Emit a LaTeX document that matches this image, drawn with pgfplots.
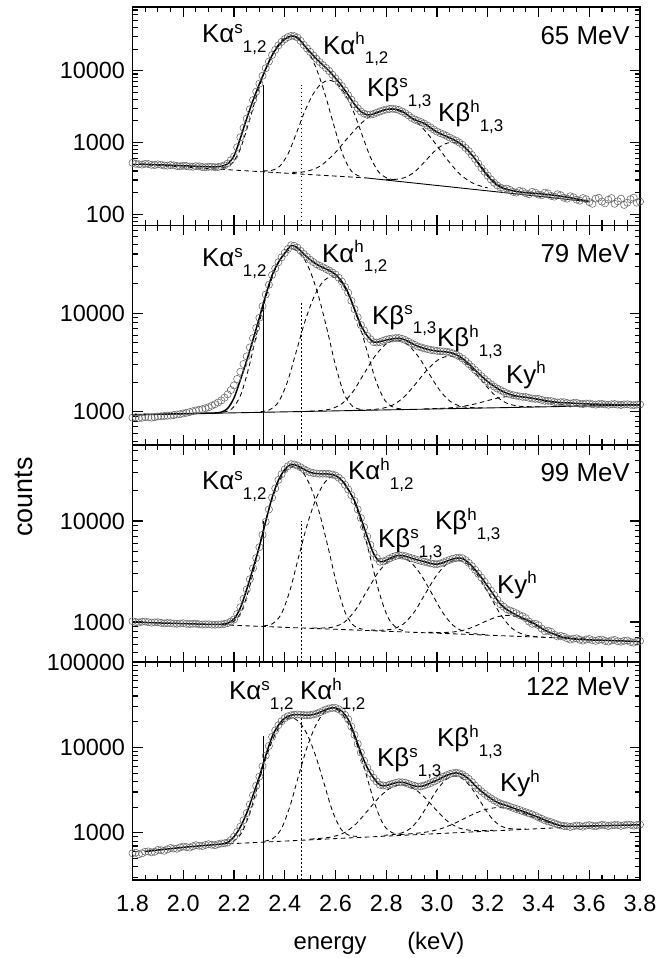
\documentclass[border=0pt]{standalone}
\usepackage{pgfplots}
\usepackage{pgfplotstable}
\pgfplotsset{compat=1.18}
\usepackage{fontspec}
\setmainfont{Liberation Sans}

% line labels: K + greek letter + superscript + subscript set one after the other
\newcommand\scr[1]{{\fontsize{17}{17}\selectfont #1}}
\newcommand\Kl[3]{K#1\raisebox{0.37em}{\scr{#2}}\raisebox{-0.36em}{\scr{#3}}}
\newcommand\Ky{Ky\raisebox{0.37em}{\scr{h}}}

\pgfplotsset{
  /pgfplots/specpanel/.style={
    scale only axis, width=507.5bp, xmin=1.8, xmax=3.8,
    xtick={1.8,2,2.2,2.4,2.6,2.8,3,3.2,3.4,3.6,3.8}, minor x tick num=3,
    xticklabels={},
    tick align=inside, major tick length=10bp, minor tick length=5.5bp,
    every tick/.style={black, line width=1.1bp},
    axis line style={line width=1.6bp},
    tick label style={font=\fontsize{23.5}{26}\selectfont},
    yticklabel style={xshift=-4bp},
    xticklabel style={yshift=-12bp},
  },
  /pgfplots/pts/.style={only marks, mark=o, mark size=3.6bp, color=black!60, mark options={line width=0.55bp}},
  /pgfplots/myfit/.style={black, line width=1.5bp, smooth, no marks},
  /pgfplots/gauss/.style={black, line width=0.85bp, dash pattern=on 4.5bp off 3.5bp, smooth, no marks},
  /pgfplots/bldash/.style={black, line width=0.85bp, dash pattern=on 4.5bp off 3.5bp, no marks},
  /pgfplots/blsolid/.style={black, line width=0.9bp, no marks},
  /pgfplots/vsolid/.style={black, line width=1.1bp, no marks},
  /pgfplots/vdot/.style={black, line width=1.2bp, dash pattern=on 1.6bp off 2.4bp, no marks},
}

% measured spectra: energy (keV), counts, fitted total
\pgfplotstableread{
E d f
1.800 520 505
1.825 498 500
1.850 505 497
1.875 488 493
1.900 495 490
1.925 478 486
1.950 486 482
1.975 470 478
2.000 474 474
2.025 462 470
2.050 468 466
2.075 455 462
2.100 458 459
2.125 452 458
2.150 465 466
2.175 510 505
2.200 640 650
2.225 1180 1150
2.250 2150 2150
2.275 3900 3850
2.300 6600 6500
2.325 10800 10600
2.350 16500 16300
2.375 22500 22200
2.400 27500 27300
2.425 30500 30300
2.450 29000 29000
2.475 22800 22800
2.500 18300 18200
2.525 14600 14600
2.550 12000 12000
2.575 9900 9900
2.600 7800 7830
2.625 6100 6120
2.650 4550 4590
2.675 3400 3400
2.700 2700 2700
2.725 2430 2420
2.750 2500 2500
2.775 2700 2700
2.800 2880 2880
2.825 2950 2930
2.850 2840 2830
2.875 2560 2550
2.900 2200 2180
2.925 2000 1990
2.950 1830 1840
2.975 1620 1600
3.000 1420 1400
3.025 1300 1270
3.050 1170 1160
3.075 1060 1050
3.100 930 920
3.125 760 750
3.150 590 590
3.175 440 445
3.200 345 340
3.225 275 275
3.250 236 238
3.275 228 222
3.300 205 212
3.325 212 205
3.350 196 200
3.375 205 197
3.400 188 194
3.425 200 190
3.450 180 186
3.475 190 181
3.500 170 176
3.525 178 170
3.550 160 164
3.575 168 157
3.600 148 151
3.625 165 151
3.650 150 151
3.675 160 151
3.700 140 151
3.725 165 151
3.750 145 151
3.775 170 151
3.800 150 151
}\specA
\pgfplotstableread{
E d
1.8125 505
1.8375 492
1.8625 500
1.8875 485
1.9125 490
1.9375 476
1.9625 480
1.9875 466
2.0125 470
2.0375 458
2.0625 465
2.0875 452
2.1125 460
2.1375 455
2.1625 480
2.1875 565
2.2125 860
2.2375 1600
2.2625 2900
2.2875 5100
2.3125 8500
2.3375 13400
2.3625 19500
2.3875 25200
2.4125 29300
2.4375 30300
2.4625 26000
2.4875 20400
2.5125 16300
2.5375 13200
2.5625 10900
2.5875 8800
2.6125 6900
2.6375 5300
2.6625 3950
2.6875 3000
2.7125 2530
2.7375 2450
2.7625 2600
2.7875 2800
2.8125 2930
2.8375 2900
2.8625 2700
2.8875 2380
2.9125 2090
2.9375 1920
2.9625 1720
2.9875 1510
3.0125 1350
3.0375 1240
3.0625 1110
3.0875 1000
3.1125 840
3.1375 670
3.1625 510
3.1875 390
3.2125 305
3.2375 252
3.2625 225
3.2875 218
3.3125 200
3.3375 208
3.3625 190
3.3875 200
3.4125 184
3.4375 195
3.4625 176
3.4875 184
3.5125 165
3.5375 172
3.5625 155
3.5875 162
3.6125 140
3.6375 170
3.6625 142
3.6875 168
3.7125 152
3.7375 135
3.7625 162
3.7875 145
}\specAm

\pgfplotstableread{
E d f
1.800 870 930
1.825 860 933
1.850 885 936
1.875 870 939
1.900 895 942
1.925 905 945
1.950 915 948
1.975 935 951
2.000 960 954
2.025 990 957
2.050 1030 960
2.075 1060 963
2.100 1110 966
2.125 1190 970
2.150 1300 990
2.175 1500 1080
2.200 1850 1380
2.225 2550 2100
2.250 3650 3300
2.275 5600 5400
2.300 9000 9000
2.325 15500 15300
2.350 24500 24300
2.375 33000 33000
2.400 41000 40800
2.425 49000 48800
2.450 46500 46300
2.475 40000 40000
2.500 35000 35000
2.525 31500 31500
2.550 29300 29200
2.575 27200 27200
2.600 24800 24800
2.625 21000 21000
2.650 16200 16100
2.675 11000 11000
2.700 7600 7600
2.725 5900 5900
2.750 5100 5100
2.775 5100 5150
2.800 5400 5350
2.825 5550 5500
2.850 5600 5580
2.875 5350 5350
2.900 4950 4950
2.925 4600 4620
2.950 4400 4400
2.975 4250 4230
3.000 4150 4130
3.025 4100 4080
3.050 4020 4000
3.075 3800 3800
3.100 3480 3480
3.125 3050 3070
3.150 2650 2650
3.175 2300 2300
3.200 2020 2020
3.225 1800 1810
3.250 1660 1650
3.275 1540 1540
3.300 1470 1470
3.325 1430 1425
3.350 1410 1400
3.375 1360 1370
3.400 1350 1335
3.425 1290 1300
3.450 1280 1268
3.475 1240 1248
3.500 1250 1235
3.525 1210 1225
3.550 1230 1215
3.575 1195 1205
3.600 1210 1198
3.625 1180 1192
3.650 1200 1188
3.675 1175 1185
3.700 1195 1182
3.725 1170 1180
3.750 1190 1178
3.775 1165 1176
3.800 1185 1175
}\specB
\pgfplotstableread{
E d
1.8125 880
1.8375 868
1.8625 875
1.8875 880
1.9125 898
1.9375 910
1.9625 925
1.9875 945
2.0125 975
2.0375 1010
2.0625 1045
2.0875 1085
2.1125 1150
2.1375 1240
2.1625 1390
2.1875 1660
2.2125 2150
2.2375 3050
2.2625 4500
2.2875 7100
2.3125 11800
2.3375 19500
2.3625 28500
2.3875 37000
2.4125 45000
2.4375 48500
2.4625 43000
2.4875 37400
2.5125 33200
2.5375 30300
2.5625 28200
2.5875 26000
2.6125 23000
2.6375 18500
2.6625 13400
2.6875 9100
2.7125 6700
2.7375 5450
2.7625 5050
2.7875 5250
2.8125 5480
2.8375 5600
2.8625 5500
2.8875 5150
2.9125 4780
2.9375 4500
2.9625 4320
2.9875 4200
3.0125 4120
3.0375 4060
3.0625 3920
3.0875 3650
3.1125 3270
3.1375 2850
3.1625 2470
3.1875 2150
3.2125 1900
3.2375 1720
3.2625 1600
3.2875 1500
3.3125 1455
3.3375 1415
3.3625 1385
3.3875 1350
3.4125 1320
3.4375 1290
3.4625 1255
3.4875 1250
3.5125 1225
3.5375 1225
3.5625 1205
3.5875 1210
3.6125 1190
3.6375 1195
3.6625 1185
3.6875 1190
3.7125 1180
3.7375 1185
3.7625 1175
3.7875 1180
}\specBm

\pgfplotstableread{
E d f
1.800 1020 1000
1.825 990 995
1.850 1010 990
1.875 985 985
1.900 995 980
1.925 970 976
1.950 975 972
1.975 960 968
2.000 972 964
2.025 955 960
2.050 962 956
2.075 945 952
2.100 950 948
2.125 940 946
2.150 948 950
2.175 975 975
2.200 1060 1070
2.225 1400 1380
2.250 2100 2100
2.275 3400 3400
2.300 5500 5600
2.325 9800 9900
2.350 17000 17000
2.375 25500 25300
2.400 32500 32300
2.425 36500 36300
2.450 35300 35200
2.475 32500 32500
2.500 30300 30300
2.525 29500 29400
2.550 29400 29300
2.575 29200 29100
2.600 28200 28200
2.625 25200 25200
2.650 20500 20500
2.675 15800 15800
2.700 10700 10700
2.725 7000 7000
2.750 4800 4750
2.775 3950 3950
2.800 4080 4080
2.825 4400 4400
2.850 4580 4570
2.875 4480 4480
2.900 4280 4280
2.925 4100 4100
2.950 3950 3960
2.975 3800 3800
3.000 3730 3730
3.025 3900 3880
3.050 4120 4110
3.075 4300 4280
3.100 4280 4260
3.125 3850 3850
3.150 3290 3300
3.175 2750 2750
3.200 2250 2250
3.225 1850 1830
3.250 1500 1500
3.275 1340 1330
3.300 1260 1220
3.325 1170 1130
3.350 1090 1060
3.375 960 990
3.400 930 910
3.425 810 830
3.450 800 780
3.475 720 735
3.500 715 700
3.525 670 685
3.550 690 676
3.575 655 670
3.600 680 665
3.625 650 662
3.650 670 660
3.675 640 657
3.700 665 653
3.725 638 650
3.750 655 647
3.775 625 643
3.800 650 640
}\specC
\pgfplotstableread{
E d
1.8125 1000
1.8375 1005
1.8625 995
1.8875 992
1.9125 980
1.9375 978
1.9625 965
1.9875 968
2.0125 960
2.0375 960
2.0625 950
2.0875 948
2.1125 942
2.1375 945
2.1625 958
2.1875 1010
2.2125 1200
2.2375 1700
2.2625 2650
2.2875 4300
2.3125 7300
2.3375 13000
2.3625 21000
2.3875 29000
2.4125 34800
2.4375 36200
2.4625 34000
2.4875 31300
2.5125 29800
2.5375 29400
2.5625 29400
2.5875 28800
2.6125 26800
2.6375 22800
2.6625 18000
2.6875 13000
2.7125 8700
2.7375 5800
2.7625 4300
2.7875 3980
2.8125 4250
2.8375 4500
2.8625 4550
2.8875 4380
2.9125 4190
2.9375 4020
2.9625 3880
2.9875 3760
3.0125 3800
3.0375 4010
3.0625 4230
3.0875 4320
3.1125 4100
3.1375 3580
3.1625 3010
3.1875 2500
3.2125 2040
3.2375 1660
3.2625 1420
3.2875 1300
3.3125 1220
3.3375 1140
3.3625 1010
3.3875 960
3.4125 860
3.4375 820
3.4625 750
3.4875 730
3.5125 690
3.5375 685
3.5625 668
3.5875 672
3.6125 660
3.6375 665
3.6625 650
3.6875 658
3.7125 645
3.7375 652
3.7625 635
3.7875 642
}\specCm

\pgfplotstableread{
E d f
1.800 575 590
1.825 560 597
1.850 600 605
1.875 590 615
1.900 630 628
1.925 615 640
1.950 665 652
1.975 650 663
2.000 690 675
2.025 670 686
2.050 715 697
2.075 700 707
2.100 735 717
2.125 715 727
2.150 750 738
2.175 770 770
2.200 900 900
2.225 1180 1170
2.250 1700 1700
2.275 2750 2750
2.300 4550 4550
2.325 8000 8000
2.350 13300 13300
2.375 18200 18200
2.400 22000 22000
2.425 23800 23800
2.450 24300 24300
2.475 23900 23900
2.500 23900 23900
2.525 24800 24800
2.550 26700 26700
2.575 28600 28600
2.600 29000 29000
2.625 26500 26500
2.650 21300 21300
2.675 14000 14000
2.700 8700 8700
2.725 5800 5800
2.750 4400 4400
2.775 3650 3620
2.800 3560 3570
2.825 3750 3770
2.850 3920 3910
2.875 3860 3850
2.900 3620 3610
2.925 3480 3480
2.950 3580 3560
2.975 3830 3850
3.000 4150 4120
3.025 4530 4520
3.050 4870 4850
3.075 5050 5030
3.100 4820 4810
3.125 4280 4280
3.150 3570 3570
3.175 3060 3060
3.200 2680 2680
3.225 2400 2380
3.250 2200 2190
3.275 2090 2080
3.300 1960 1950
3.325 1850 1840
3.350 1740 1730
3.375 1640 1620
3.400 1520 1515
3.425 1400 1410
3.450 1330 1320
3.475 1250 1240
3.500 1200 1190
3.525 1170 1188
3.550 1215 1190
3.575 1180 1195
3.600 1230 1200
3.625 1190 1205
3.650 1240 1210
3.675 1200 1215
3.700 1235 1220
3.725 1205 1225
3.750 1250 1230
3.775 1215 1235
3.800 1250 1240
}\specD
\pgfplotstableread{
E d
1.8125 585
1.8375 575
1.8625 605
1.8875 600
1.9125 625
1.9375 640
1.9625 655
1.9875 675
2.0125 680
2.0375 695
2.0625 705
2.0875 720
2.1125 725
2.1375 735
2.1625 755
2.1875 820
2.2125 1020
2.2375 1400
2.2625 2150
2.2875 3550
2.3125 6000
2.3375 10400
2.3625 15800
2.3875 20200
2.4125 23100
2.4375 24100
2.4625 24100
2.4875 23800
2.5125 24300
2.5375 25700
2.5625 27700
2.5875 29000
2.6125 28000
2.6375 24000
2.6625 17500
2.6875 11000
2.7125 7000
2.7375 5000
2.7625 3980
2.7875 3580
2.8125 3650
2.8375 3850
2.8625 3900
2.8875 3740
2.9125 3540
2.9375 3500
2.9625 3700
2.9875 3980
3.0125 4350
3.0375 4720
3.0625 4980
3.0875 4960
3.1125 4560
3.1375 3920
3.1625 3300
3.1875 2860
3.2125 2530
3.2375 2290
3.2625 2140
3.2875 2020
3.3125 1900
3.3375 1790
3.3625 1690
3.3875 1580
3.4125 1460
3.4375 1360
3.4625 1290
3.4875 1220
3.5125 1195
3.5375 1190
3.5625 1200
3.5875 1215
3.6125 1210
3.6375 1215
3.6625 1225
3.6875 1220
3.7125 1230
3.7375 1225
3.7625 1240
3.7875 1235
}\specDm

\begin{document}
\begin{tikzpicture}[x=1bp, y=1bp]
\useasboundingbox (0,0) rectangle (658,958);

% ---------------- 65 MeV ----------------
\begin{axis}[specpanel, ymode=log, at={(132.5bp,732.5bp)}, anchor=south west, height=218.5bp,
  ymin=69.8, ymax=77100, ytick={100,1000,10000}, yticklabels={100,1000,10000},
  minor ytick={80,90,200,300,400,500,600,700,800,900,2000,3000,4000,5000,6000,7000,8000,9000,20000,30000,40000,50000,60000,70000}]
\addplot[pts] table[x=E, y=d] {\specA};
\addplot[pts] table[x=E, y=d] {\specAm};
\addplot[gauss] coordinates {(2.153,441) (2.187,491) (2.221,751) (2.255,1728) (2.289,4464) (2.323,10139) (2.357,18586) (2.391,26860) (2.425,30378) (2.459,26846) (2.493,18560) (2.527,10099) (2.561,4411) (2.595,1662) (2.629,671) (2.663,398) (2.697,335)};
\addplot[gauss] coordinates {(2.315,402) (2.3475,408) (2.38,465) (2.4125,688) (2.445,1321) (2.4775,2641) (2.51,4608) (2.5425,6533) (2.575,7349) (2.6075,6521) (2.64,4582) (2.6725,2603) (2.705,1271) (2.7375,624) (2.77,389) (2.8025,320) (2.835,300)};
\addplot[gauss] coordinates {(2.43,383) (2.485,395) (2.54,470) (2.595,697) (2.65,1178) (2.705,1901) (2.76,2608) (2.815,2902) (2.87,2586) (2.925,1858) (2.98,1114) (3.035,611) (3.09,362) (3.145,267) (3.20,233)};
\addplot[gauss] coordinates {(2.7975,307) (2.835,306) (2.8725,324) (2.91,385) (2.9475,520) (2.985,724) (3.0225,924) (3.06,1004) (3.0975,909) (3.135,695) (3.1725,476) (3.21,326) (3.2475,251) (3.285,218) (3.3225,205)};
\addplot[bldash] coordinates {(1.8,500) (2.72,321)};
\addplot[blsolid] coordinates {(2.72,321) (3.59,151)};
\addplot[myfit, restrict x to domain=1.82:3.6] table[x=E, y=f] {\specA};
\addplot[vsolid] coordinates {(2.315,69.8) (2.315,6300)};
\addplot[vdot] coordinates {(2.467,69.8) (2.467,6300)};
\end{axis}

% ---------------- 79 MeV ----------------
\begin{axis}[specpanel, ymode=log, at={(132.5bp,513bp)}, anchor=south west, height=219.5bp,
  ymin=459, ymax=78000, ytick={1000,10000}, yticklabels={1000,10000},
  minor ytick={500,600,700,800,900,2000,3000,4000,5000,6000,7000,8000,9000,20000,30000,40000,50000,60000,70000}]
\addplot[pts] table[x=E, y=d] {\specB};
\addplot[pts] table[x=E, y=d] {\specBm};
\addplot[gauss] coordinates {(2.158,988) (2.192,1074) (2.226,1469) (2.26,2917) (2.294,6942) (2.328,15280) (2.362,27683) (2.396,39832) (2.43,45006) (2.464,39840) (2.498,27700) (2.532,15305) (2.566,6975) (2.60,2958) (2.634,1518) (2.668,1131) (2.702,1053)};
\addplot[gauss] coordinates {(2.305,999) (2.34,1045) (2.375,1249) (2.41,1991) (2.445,4051) (2.48,8318) (2.515,14662) (2.55,20876) (2.585,23524) (2.62,20884) (2.655,14679) (2.69,8343) (2.725,4085) (2.76,2033) (2.795,1299) (2.83,1104) (2.865,1066)};
\addplot[gauss] coordinates {(2.50,1015) (2.5425,1028) (2.585,1072) (2.6275,1218) (2.67,1616) (2.7125,2436) (2.755,3653) (2.7975,4845) (2.84,5355) (2.8825,4855) (2.925,3673) (2.9675,2466) (3.01,1657) (3.0525,1269) (3.095,1133) (3.1375,1100) (3.18,1097)};
\addplot[gauss] coordinates {(2.69,1038) (2.735,1048) (2.78,1077) (2.825,1167) (2.87,1410) (2.915,1908) (2.96,2646) (3.005,3370) (3.05,3680) (3.095,3380) (3.14,2668) (3.185,1940) (3.23,1454) (3.275,1221) (3.32,1141) (3.365,1124) (3.41,1124)};
\addplot[gauss] coordinates {(2.95,1069) (3.00,1078) (3.05,1094) (3.10,1131) (3.15,1199) (3.20,1298) (3.25,1395) (3.30,1440) (3.35,1407) (3.40,1322) (3.45,1235) (3.50,1179) (3.55,1154) (3.60,1150) (3.65,1153)};
\addplot[blsolid] coordinates {(1.8,930) (3.8,1170)};
\addplot[myfit] table[x=E, y=f] {\specB};
\addplot[vsolid] coordinates {(2.315,459) (2.315,13300)};
\addplot[vdot] coordinates {(2.467,459) (2.467,12900)};
\end{axis}

% ---------------- 99 MeV ----------------
\begin{axis}[specpanel, ymode=log, at={(132.5bp,296bp)}, anchor=south west, height=217bp,
  ymin=402, ymax=56500, ytick={1000,10000}, yticklabels={1000,10000},
  minor ytick={500,600,700,800,900,2000,3000,4000,5000,6000,7000,8000,9000,20000,30000,40000,50000}]
\addplot[pts] table[x=E, y=d] {\specC};
\addplot[pts] table[x=E, y=d] {\specCm};
\addplot[gauss] coordinates {(2.163,946) (2.197,1004) (2.231,1299) (2.265,2409) (2.299,5510) (2.333,11944) (2.367,21519) (2.401,30897) (2.435,34886) (2.469,30885) (2.503,21494) (2.537,11907) (2.571,5461) (2.605,2348) (2.639,1226) (2.673,918) (2.707,848)};
\addplot[gauss] coordinates {(2.316,916) (2.351,960) (2.386,1195) (2.421,2073) (2.456,4535) (2.491,9643) (2.526,17245) (2.561,24691) (2.596,27857) (2.631,24678) (2.666,17220) (2.701,9605) (2.736,4485) (2.771,2010) (2.806,1119) (2.841,872) (2.876,815)};
\addplot[gauss] coordinates {(2.51,873) (2.5525,873) (2.595,897) (2.6375,1007) (2.68,1329) (2.7225,2003) (2.765,3010) (2.8075,3996) (2.85,4411) (2.8925,3980) (2.935,2979) (2.9775,1957) (3.02,1267) (3.0625,931) (3.105,805) (3.1475,766) (3.19,751)};
\addplot[gauss] coordinates {(2.74,832) (2.7825,830) (2.825,853) (2.8675,955) (2.91,1253) (2.9525,1881) (2.995,2817) (3.0375,3733) (3.08,4120) (3.1225,3718) (3.165,2786) (3.2075,1835) (3.25,1192) (3.2925,878) (3.335,761) (3.3775,723) (3.42,709)};
\addplot[gauss] coordinates {(2.965,791) (3.01,787) (3.055,793) (3.10,824) (3.145,898) (3.19,1011) (3.235,1121) (3.28,1164) (3.325,1105) (3.37,978) (3.415,849) (3.46,759) (3.505,712) (3.55,690) (3.595,678)};
\addplot[bldash] coordinates {(2.15,937) (3.55,685)};
\addplot[myfit] table[x=E, y=f] {\specC};
\addplot[vsolid] coordinates {(2.315,402) (2.315,10000)};
\addplot[vdot] coordinates {(2.467,402) (2.467,10000)};
\end{axis}

% ---------------- 122 MeV ----------------
\begin{axis}[specpanel, ymode=log, at={(132.5bp,78bp)}, anchor=south west, height=218bp,
  ymin=280, ymax=100000, ytick={1000,10000,100000}, yticklabels={1000,10000,100000},
  minor ytick={300,400,500,600,700,800,900,2000,3000,4000,5000,6000,7000,8000,9000,20000,30000,40000,50000,60000,70000,80000,90000},
  xticklabels={1.8,2.0,2.2,2.4,2.6,2.8,3.0,3.2,3.4,3.6,3.8}]
\addplot[pts] table[x=E, y=d] {\specD};
\addplot[pts] table[x=E, y=d] {\specDm};
\addplot[gauss] coordinates {(2.165,745) (2.1975,795) (2.23,998) (2.2625,1713) (2.295,3688) (2.3275,7770) (2.36,13839) (2.3925,19783) (2.425,22319) (2.4575,19804) (2.49,13880) (2.5225,7831) (2.555,3769) (2.5875,1814) (2.62,1119) (2.6525,937) (2.685,908)};
\addplot[gauss] coordinates {(2.32,796) (2.3535,859) (2.387,1119) (2.4205,2047) (2.454,4616) (2.4875,9931) (2.521,17831) (2.5545,25570) (2.588,28870) (2.6215,25591) (2.655,17873) (2.6885,9994) (2.722,4700) (2.7555,2152) (2.789,1244) (2.8225,1005) (2.856,963)};
\addplot[gauss] coordinates {(2.50,844) (2.545,863) (2.59,901) (2.635,1004) (2.68,1264) (2.725,1790) (2.77,2565) (2.815,3324) (2.86,3655) (2.905,3352) (2.95,2621) (2.995,1874) (3.04,1376) (3.085,1144) (3.13,1069) (3.175,1059) (3.22,1068)};
\addplot[gauss] coordinates {(2.79,934) (2.825,952) (2.86,995) (2.895,1124) (2.93,1464) (2.965,2157) (3.00,3182) (3.035,4187) (3.07,4621) (3.105,4209) (3.14,3226) (3.175,2222) (3.21,1551) (3.245,1233) (3.28,1126) (3.315,1105) (3.35,1109)};
\addplot[gauss] coordinates {(2.855,956) (2.91,981) (2.965,1028) (3.02,1127) (3.075,1314) (3.13,1585) (3.185,1851) (3.24,1974) (3.295,1885) (3.35,1654) (3.405,1417) (3.46,1264) (3.515,1199) (3.57,1187) (3.625,1196)};
\addplot[bldash] coordinates {(2.18,743) (3.50,1155)};
\addplot[myfit, restrict x to domain=1.84:3.8] table[x=E, y=f] {\specD};
\addplot[vsolid] coordinates {(2.315,280) (2.315,13600)};
\addplot[vdot] coordinates {(2.467,280) (2.467,23000)};
\end{axis}

% ---------------- line labels ----------------
\begin{scope}[every node/.style={inner sep=0pt, font=\fontsize{26}{28}\selectfont}]
\node[anchor=base west] at (202,915) {\Kl{α}{s}{1,2}};
\node[anchor=base west] at (323,903.7) {\Kl{α}{h}{1,2}};
\node[anchor=base west] at (367,861.3) {\Kl{β}{s}{1,3}};
\node[anchor=base west] at (438,836.3) {\Kl{β}{h}{1,3}};
\node[anchor=base east] at (630,913) {65 MeV};

\node[anchor=base west] at (202,691.3) {\Kl{α}{s}{1,2}};
\node[anchor=base west] at (322,695.7) {\Kl{α}{h}{1,2}};
\node[anchor=base west] at (372,633.7) {\Kl{β}{s}{1,3}};
\node[anchor=base west] at (437,611.3) {\Kl{β}{h}{1,3}};
\node[anchor=base west] at (506,574.7) {\Ky};
\node[anchor=base east] at (630,695) {79 MeV};

\node[anchor=base west] at (202,468) {\Kl{α}{s}{1,2}};
\node[anchor=base west] at (348,478) {\Kl{α}{h}{1,2}};
\node[anchor=base west] at (378,410.3) {\Kl{β}{s}{1,3}};
\node[anchor=base west] at (435,428) {\Kl{β}{h}{1,3}};
\node[anchor=base west] at (497,364.7) {\Ky};
\node[anchor=base east] at (630,476.3) {99 MeV};

\node[anchor=base west] at (229,258) {\Kl{α}{s}{1,2}};
\node[anchor=base west] at (300,258) {\Kl{α}{h}{1,2}};
\node[anchor=base west] at (377,191.3) {\Kl{β}{s}{1,3}};
\node[anchor=base west] at (437,211.3) {\Kl{β}{h}{1,3}};
\node[anchor=base west] at (500,166.3) {\Ky};
\node[anchor=base east] at (630,262) {122 MeV};
\end{scope}

% ---------------- axis titles ----------------
\node[rotate=90, inner sep=0pt, font=\fontsize{27}{29}\selectfont] at (24,461) {counts};
\node[anchor=base, inner sep=0pt, font=\fontsize{24}{26}\selectfont] at (379,8) {energy\hspace{1.7em}(keV)};
\end{tikzpicture}
\end{document}
